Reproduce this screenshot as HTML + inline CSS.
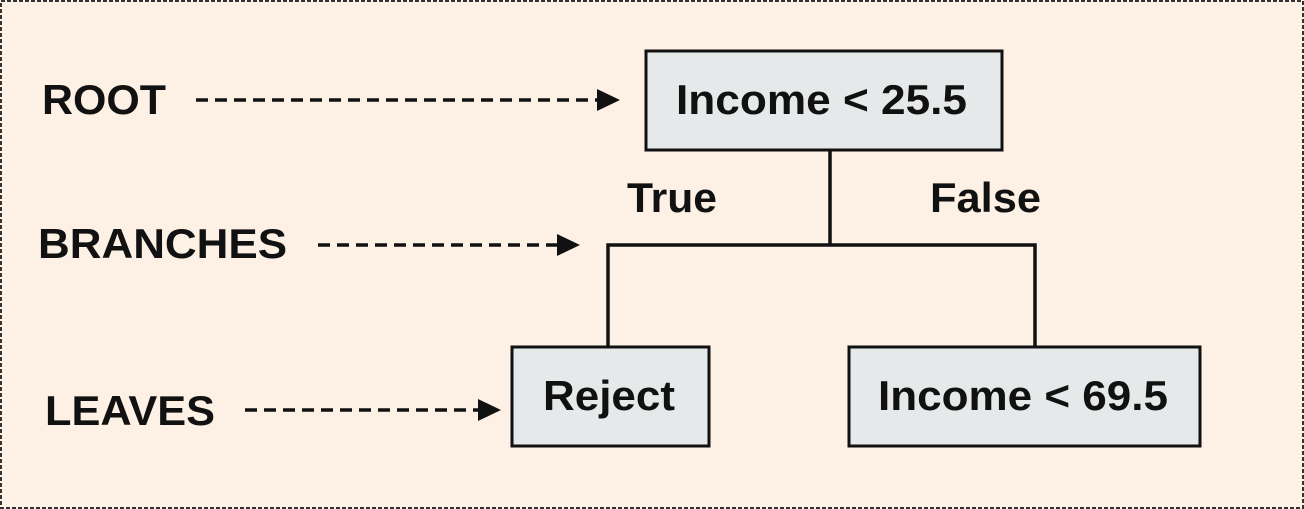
<!DOCTYPE html>
<html><head><style>
html,body{margin:0;padding:0;background:#fdf0e4;}
svg{display:block;}
text{font-family:"Liberation Sans",sans-serif;font-weight:bold;fill:#111;}
</style></head><body>
<svg width="1304" height="509" viewBox="0 0 1304 509">
<rect x="0" y="0" width="1304" height="509" fill="#fdf0e4"/>
<rect x="1" y="1" width="1302" height="507" fill="none" stroke="#333" stroke-width="2" stroke-dasharray="4,2"/>
<g stroke="#111" stroke-width="3" fill="#e6e9ea">
<rect x="646" y="51" width="356" height="99"/>
<rect x="512" y="347" width="197" height="99"/>
<rect x="849" y="347" width="351" height="99"/>
</g>
<g stroke="#111" stroke-width="3.5" fill="none">
<line x1="830" y1="150" x2="830" y2="245"/>
<polyline points="608,347 608,245 1035,245 1035,347"/>
</g>
<g stroke="#111" stroke-width="3.5" stroke-dasharray="12,7">
<line x1="196" y1="100" x2="598" y2="100"/>
<line x1="318" y1="245" x2="558" y2="245"/>
<line x1="245" y1="410" x2="480" y2="410"/>
</g>
<g fill="#111">
<polygon points="597,89 620,100 597,111"/>
<polygon points="557,234 580,245 557,256"/>
<polygon points="478,399 501,410 478,421"/>
</g>
<g font-size="42">
<text x="42" y="114" textLength="124" lengthAdjust="spacingAndGlyphs">ROOT</text>
<text x="38" y="258" textLength="249" lengthAdjust="spacingAndGlyphs">BRANCHES</text>
<text x="45" y="425" textLength="170" lengthAdjust="spacingAndGlyphs">LEAVES</text>
<text x="627" y="212" textLength="90" lengthAdjust="spacingAndGlyphs">True</text>
<text x="930" y="212" textLength="111" lengthAdjust="spacingAndGlyphs">False</text>
<text x="676" y="114" textLength="291" lengthAdjust="spacingAndGlyphs">Income &lt; 25.5</text>
<text x="543" y="410" textLength="132" lengthAdjust="spacingAndGlyphs">Reject</text>
<text x="878" y="410" textLength="290" lengthAdjust="spacingAndGlyphs">Income &lt; 69.5</text>
</g>
</svg>
</body></html>
